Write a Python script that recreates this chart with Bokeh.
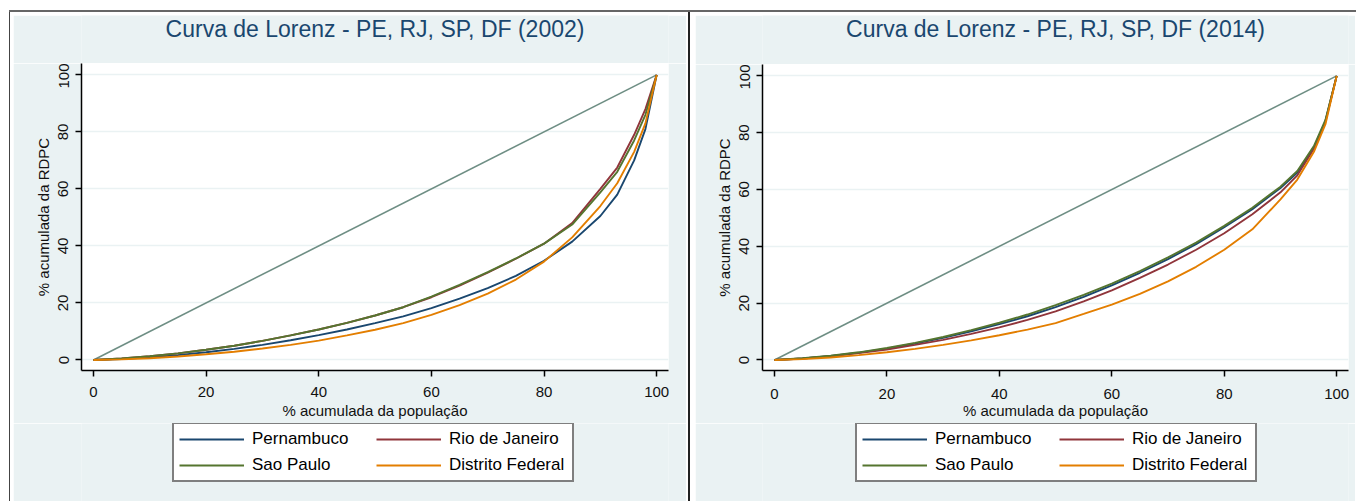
from bokeh.plotting import figure
from bokeh.models import Range1d, FixedTicker, Legend, LegendItem, Label, Spacer
from bokeh.layouts import row, column
from bokeh.embed import file_html
from bokeh.resources import INLINE

# cumulative population share (%)
pop = [0, 5, 10, 15, 20, 25, 30, 35, 40, 45, 50, 55, 60, 65, 70, 75, 80, 85, 90, 93, 96, 98, 100]

# 2002 cumulative income share (%)
pe_2002 = [0, 0.3, 0.9, 1.7, 2.7, 3.9, 5.3, 6.9, 8.7, 10.7, 12.9, 15.3, 18.2, 21.5, 25.2, 29.5, 34.8, 41.5, 50.5, 58, 70, 81, 100]
rj_2002 = [0, 0.5, 1.3, 2.3, 3.6, 5.0, 6.7, 8.6, 10.7, 13.0, 15.6, 18.5, 22.0, 26.1, 30.6, 35.5, 40.8, 48, 60, 67.5, 79, 88, 100]
sp_2002 = [0, 0.5, 1.3, 2.3, 3.6, 5.0, 6.7, 8.6, 10.7, 13.0, 15.6, 18.5, 22.2, 26.3, 30.8, 35.6, 40.8, 47.5, 58.8, 66, 77, 86, 100]
df_2002 = [0, 0.2, 0.6, 1.2, 2.0, 2.9, 4.0, 5.3, 6.8, 8.6, 10.6, 12.9, 15.8, 19.2, 23.3, 28.2, 34.5, 43, 54, 62, 73, 83, 100]

# 2014 cumulative income share (%)
pe_2014 = [0, 0.5, 1.4, 2.6, 4.0, 5.8, 7.8, 10.1, 12.6, 15.4, 18.6, 22.2, 26.3, 30.7, 35.5, 40.8, 46.7, 53.1, 60.5, 66, 75, 84, 100]
rj_2014 = [0, 0.5, 1.3, 2.4, 3.7, 5.3, 7.1, 9.2, 11.5, 14.1, 17.1, 20.6, 24.5, 28.9, 33.6, 38.8, 44.6, 51.3, 59, 65, 74.5, 84, 100]
sp_2014 = [0, 0.6, 1.5, 2.7, 4.2, 6.0, 8.1, 10.5, 13.1, 16.0, 19.3, 22.9, 26.9, 31.3, 36.1, 41.3, 47.2, 53.6, 61, 66.5, 75.5, 84.5, 100]
df_2014 = [0, 0.3, 0.9, 1.7, 2.7, 3.9, 5.3, 6.9, 8.7, 10.7, 13.0, 16.2, 19.5, 23.3, 27.7, 32.8, 38.8, 46, 56.5, 63.5, 73.5, 83, 100]

equality = [0, 100]

states = ["Pernambuco", "Rio de Janeiro", "Sao Paulo", "Distrito Federal"]
ticks = [0, 20, 40, 60, 80, 100]
title_2002 = "Curva de Lorenz - PE, RJ, SP, DF (2002)"
title_2014 = "Curva de Lorenz - PE, RJ, SP, DF (2014)"
x_title = "% acumulada da população"
y_title = "% acumulada da RDPC"

COLORS = ["#1a476f", "#90353b", "#55752f", "#e37e00"]
TEAL = "#6e8e84"
BG = "#eaf2f3"
FONT = "Liberation Sans"
LW = 1.9


def strip(width, height):
    s = figure(width=width, height=height, output_backend="svg", toolbar_location=None,
               x_range=Range1d(0, 1), y_range=Range1d(0, 1),
               x_axis_type=None, y_axis_type=None, min_border=0,
               background_fill_color=BG, border_fill_color=BG, outline_line_color=None)
    s.xgrid.grid_line_color = None
    s.ygrid.grid_line_color = None
    return s


def panel(title, series, width, mb_left, mb_right, title_h, xlab_standoff, xtitle_standoff,
          leg_x, margin):
    # title strip
    t = strip(width, title_h)
    t.add_layout(Label(x=0.5, y=1 - 13.0 / title_h, text=title, text_align="center",
                       text_baseline="middle", text_font=FONT, text_font_size="23px",
                       text_color="#1a476f"))

    main_h = 360 + (48 - title_h)
    p = figure(width=width, height=main_h, output_backend="svg", toolbar_location=None,
               x_range=Range1d(-2.13, 102.1), y_range=Range1d(-3.7, 104),
               min_border_left=mb_left, min_border_right=mb_right,
               min_border_top=0, min_border_bottom=53,
               background_fill_color="white", border_fill_color=BG,
               outline_line_color=None)

    for ax in (p.xaxis[0], p.yaxis[0]):
        ax.ticker = FixedTicker(ticks=ticks)
        ax.minor_tick_line_color = None
        ax.major_tick_in = 0
        ax.major_tick_out = 6
        ax.axis_line_width = 1.5
        ax.major_tick_line_width = 1.5
        ax.axis_line_color = "black"
        ax.major_tick_line_color = "black"
        ax.major_label_text_font = FONT
        ax.major_label_text_font_size = "15px"
        ax.major_label_text_color = "#111111"
        ax.axis_label_text_font = FONT
        ax.axis_label_text_font_size = "15px"
        ax.axis_label_text_font_style = "normal"
        ax.axis_label_text_color = "#111111"

    p.xaxis.axis_label = x_title
    p.yaxis.axis_label = y_title
    p.xaxis.major_label_standoff = xlab_standoff
    p.xaxis.axis_label_standoff = xtitle_standoff
    p.yaxis.major_label_orientation = "vertical"
    p.yaxis.major_label_standoff = 7
    p.yaxis.axis_label_standoff = 4

    p.xgrid.grid_line_color = None
    p.ygrid.ticker = FixedTicker(ticks=ticks)
    p.ygrid.grid_line_color = BG
    p.ygrid.grid_line_width = 1.5

    p.line(equality, equality, line_color=TEAL, line_width=1.6)
    for ys, col in zip(series, COLORS):
        p.line(pop, ys, line_color=col, line_width=LW)

    # legend strip underneath the chart
    lg = strip(width, 78)
    items = []
    for name, col in zip(states, COLORS):
        # lines kept outside the strip's visible range: only their legend glyphs show
        r = lg.line(x=[5, 6], y=[5, 6], line_color=col, line_width=LW)
        items.append(LegendItem(label=name, renderers=[r]))
    legend = Legend(items=items, orientation="horizontal", ncols=2, location=(leg_x, 19),
                    label_text_font=FONT, label_text_font_size="17px", label_text_color="#000000",
                    glyph_width=65, glyph_height=18, label_height=18, label_width=118,
                    label_standoff=8, spacing=6, padding=5, margin=0,
                    border_line_color="black", border_line_width=2,
                    background_fill_color="white", background_fill_alpha=1.0)
    lg.add_layout(legend)
    return column(t, p, lg, margin=margin)


left = panel(title_2002, [pe_2002, rj_2002, sp_2002, df_2002], width=673,
             mb_left=68, mb_right=18, title_h=48, xlab_standoff=10, xtitle_standoff=2,
             leg_x=91, margin=(3, 0, 0, 3))
right = panel(title_2014, [pe_2014, rj_2014, sp_2014, df_2014], width=660,
              mb_left=67, mb_right=7, title_h=49, xlab_standoff=12, xtitle_standoff=0,
              leg_x=93, margin=(3, 0, 0, 5))

topline = Spacer(width=1347, height=2, margin=(10, 0, 0, 9), styles={"background-color": "#666666"})
lline = Spacer(width=1, height=489, margin=(0, 0, 0, 9), styles={"background-color": "#444444"})
mline = Spacer(width=2, height=489, margin=(0, 0, 0, 2), styles={"background-color": "#222222"})

layout = column(topline, row(lline, left, mline, right))

open("out.html", "w").write(file_html(layout, INLINE))
